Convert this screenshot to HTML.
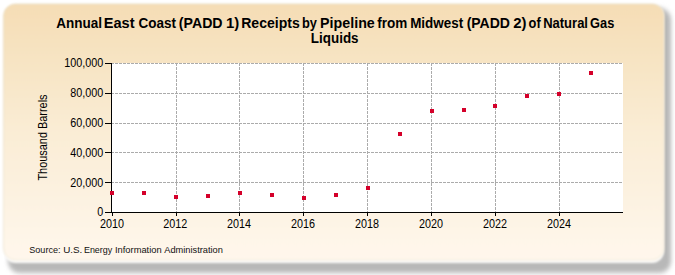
<!DOCTYPE html>
<html><head><meta charset="utf-8">
<style>
html,body{margin:0;padding:0;width:675px;height:275px;overflow:hidden;background:#fff;}
svg{position:absolute;left:0;top:0;display:block;}
text{font-family:"Liberation Sans",sans-serif;}
</style></head>
<body>
<svg width="675" height="275" viewBox="0 0 675 275">
<defs>
<linearGradient id="bg" x1="0" y1="0" x2="0" y2="1">
<stop offset="0" stop-color="#F5DDB5"/>
<stop offset="0.52" stop-color="#FAEDD6"/>
<stop offset="1" stop-color="#FFF7EC"/>
</linearGradient>
<filter id="sh" x="-5%" y="-5%" width="115%" height="120%">
<feGaussianBlur stdDeviation="2 2.6"/>
</filter>
<filter id="soft" x="-3%" y="-3%" width="106%" height="106%">
<feGaussianBlur stdDeviation="1.3"/>
</filter>
</defs>
<!-- shadow -->
<rect x="8" y="8" width="663" height="265" rx="12" ry="12" fill="#b8b8b8" filter="url(#sh)"/>
<!-- white rim -->
<rect x="3.5" y="4" width="660.5" height="259" rx="12" ry="12" fill="#fdfcfa" filter="url(#soft)"/>
<!-- panel -->
<rect x="3.5" y="4" width="660.5" height="256" rx="12" ry="12" fill="url(#bg)" stroke="#d4c9a6" stroke-opacity="0.35" stroke-width="1" filter="url(#soft)"/>
<!-- plot area -->
<rect x="111.5" y="63" width="511.5" height="149" fill="#ffffff"/>
<!-- grid -->
<g stroke="#ababab" stroke-width="1" stroke-dasharray="3,1" fill="none">
<path d="M111 63.5H623M111 93.5H623M111 123.5H623M111 152.5H623M111 182.5H623"/>
<path d="M176.5 63V212M239.5 63V212M303.5 63V212M367.5 63V212M431.5 63V212M495.5 63V212M559.5 63V212"/>
</g>
<!-- axes -->
<g stroke="#000" stroke-width="1" fill="none">
<path d="M111.5 63V212.5M105 212.5H623"/>
<path d="M105 63.5H111M105 93.5H111M105 123.5H111M105 152.5H111M105 182.5H111"/>
<path d="M112.5 212V216M176.5 212V216M239.5 212V216M303.5 212V216M367.5 212V216M431.5 212V216M495.5 212V216M559.5 212V216"/>
</g>
<!-- y labels -->
<g font-size="12" fill="#000" text-anchor="end">
<text transform="translate(103.3,67.2) scale(0.9,1)">100,000</text>
<text transform="translate(103.3,97.2) scale(0.9,1)">80,000</text>
<text transform="translate(103.3,127.2) scale(0.9,1)">60,000</text>
<text transform="translate(103.3,157.2) scale(0.9,1)">40,000</text>
<text transform="translate(103.3,187.2) scale(0.9,1)">20,000</text>
<text transform="translate(103.3,216.2) scale(0.9,1)">0</text>
</g>
<!-- x labels -->
<g font-size="12" fill="#000" text-anchor="middle">
<text transform="translate(112,227.5) scale(0.9,1)">2010</text>
<text transform="translate(175.2,227.5) scale(0.9,1)">2012</text>
<text transform="translate(239,227.5) scale(0.9,1)">2014</text>
<text transform="translate(303,227.5) scale(0.9,1)">2016</text>
<text transform="translate(367,227.5) scale(0.9,1)">2018</text>
<text transform="translate(431,227.5) scale(0.9,1)">2020</text>
<text transform="translate(495,227.5) scale(0.9,1)">2022</text>
<text transform="translate(559,227.5) scale(0.9,1)">2024</text>
</g>
<!-- y title -->
<text transform="translate(47.3,137.5) rotate(-90) scale(0.91,1)" font-size="12" text-anchor="middle" fill="#000">Thousand Barrels</text>
<!-- title -->
<g font-size="13.8" font-weight="bold" fill="#000">
<text transform="translate(56.21,27.9) scale(0.981,1)">Annual</text>
<text transform="translate(103.74,27.9) scale(1.057,1)">East</text>
<text transform="translate(138.41,27.9) scale(0.980,1)">Coast</text>
<text transform="translate(178.83,27.9) scale(1.025,1)">(PADD</text>
<text transform="translate(225.98,27.9) scale(1.080,1)">1)</text>
<text transform="translate(241.18,27.9) scale(1.020,1)">Receipts</text>
<text transform="translate(301.89,27.9) scale(0.930,1)">by</text>
<text transform="translate(320.07,27.9) scale(1.035,1)">Pipeline</text>
<text transform="translate(377.16,27.9) scale(0.980,1)">from</text>
<text transform="translate(410.13,27.9) scale(0.975,1)">Midwest</text>
<text transform="translate(466.64,27.9) scale(1.016,1)">(PADD</text>
<text transform="translate(513.17,27.9) scale(1.080,1)">2)</text>
<text transform="translate(528.57,27.9) scale(0.930,1)">of</text>
<text transform="translate(543.16,27.9) scale(0.943,1)">Natural</text>
<text transform="translate(590.11,27.9) scale(0.930,1)">Gas</text>
<text transform="translate(310.83,43.4) scale(0.973,1)">Liquids</text>
</g>
<!-- source -->
<g font-size="9.8" fill="#111">
<text transform="translate(29.24,253.2) scale(0.926,1)">Source:</text>
<text transform="translate(63.15,253.2) scale(1.006,1)">U.S.</text>
<text transform="translate(83.91,253.2) scale(0.916,1)">Energy</text>
<text transform="translate(114.95,253.2) scale(0.954,1)">Information</text>
<text transform="translate(164.30,253.2) scale(0.945,1)">Administration</text>
</g>
<!-- markers -->
<g fill="#D4002A">
<rect x="110" y="191" width="4" height="4"/>
<rect x="142" y="191" width="4" height="4"/>
<rect x="174" y="195" width="4" height="4"/>
<rect x="206" y="194" width="4" height="4"/>
<rect x="238" y="191" width="4" height="4"/>
<rect x="270" y="193" width="4" height="4"/>
<rect x="302" y="196" width="4" height="4"/>
<rect x="334" y="193" width="4" height="4"/>
<rect x="366" y="186" width="4" height="4"/>
<rect x="398" y="132" width="4" height="4"/>
<rect x="430" y="109" width="4" height="4"/>
<rect x="462" y="108" width="4" height="4"/>
<rect x="493" y="104" width="4" height="4"/>
<rect x="525" y="94" width="4" height="4"/>
<rect x="557" y="92" width="4" height="4"/>
<rect x="589" y="71" width="4" height="4"/>
</g>
</svg>
</body></html>
